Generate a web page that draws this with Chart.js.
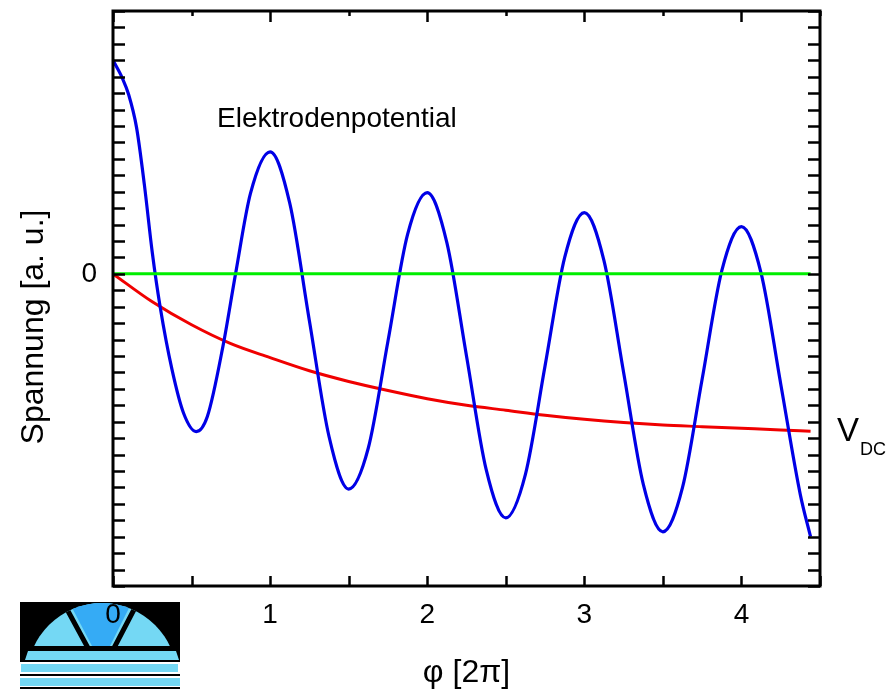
<!DOCTYPE html>
<html>
<head>
<meta charset="utf-8">
<script src="https://cdn.jsdelivr.net/npm/chart.js@4"></script>
<style>
  body { margin: 0; background: #fff; }
  canvas { display: block; }
</style>
</head>
<body>
<canvas id="myChart" width="888" height="689"></canvas>
<script>
// phase in units of 2*pi
const phiBlue = [0, 0.06, 0.1, 0.15, 0.2, 0.25, 0.3, 0.375, 0.45, 0.53, 0.6, 0.7, 0.78, 0.875, 1, 1.125, 1.25, 1.375, 1.5, 1.625, 1.75, 1.875,
                 2, 2.125, 2.25, 2.375, 2.5, 2.625, 2.75, 2.875, 3, 3.125, 3.25, 3.375, 3.5, 3.625, 3.75, 3.875,
                 4, 4.125, 4.25, 4.375, 4.44];
const elektrode = [13.0, 11.9, 10.9, 8.9, 5.4, 1.3, -2.0, -5.8, -8.5, -9.6, -8.7, -4.4, 0, 4.9, 7.43, 4.3, -2.85, -9.9, -13.1, -10.6, -4.1, 2.4,
                   4.94, 1.9, -5.0, -11.9, -14.85, -12.2, -5.6, 1.0, 3.73, 0.8, -6.0, -12.8, -15.7, -13.0, -6.4, 0.2,
                   2.88, 0.05, -6.7, -13.45, -16.0];

const phiDC = [0, 0.25, 0.5, 0.75, 1, 1.25, 1.5, 1.75, 2, 2.25, 2.5, 2.75, 3, 3.25, 3.5, 3.75, 4, 4.25, 4.44];
const vdc = [0, -1.7, -3.1, -4.25, -5.1, -5.9, -6.55, -7.1, -7.6, -8.0, -8.3, -8.6, -8.85, -9.05, -9.2, -9.3, -9.4, -9.5, -9.58];

const phiZero = [0, 4.44];
const zero = [0, 0];

const xTickLabels = ['0', '1', '2', '3', '4'];
const yTickLabels = ['0'];

const FONT = "'Liberation Sans', Arial, sans-serif";

function pts(xs, ys) {
    return xs.map((x, i) => ({ x: x, y: ys[i] }));
}

// small logo in the lower left corner
function drawLogo(ctx) {
    const light = '#74d8f4', dark = '#35abf5';
    ctx.save();
    ctx.fillStyle = '#000';
    ctx.fillRect(20, 602, 160, 60);

    ctx.save();
    ctx.beginPath();
    ctx.rect(20, 600, 160, 46);
    ctx.clip();
    ctx.beginPath();
    ctx.arc(102, 678, 75, 0, Math.PI * 2);
    ctx.clip();
    ctx.fillStyle = light;
    ctx.fillRect(20, 600, 160, 46);
    ctx.fillStyle = dark;
    ctx.beginPath();
    ctx.moveTo(92, 646); ctx.lineTo(68, 600); ctx.lineTo(133, 600); ctx.lineTo(110, 646);
    ctx.closePath();
    ctx.fill();
    ctx.strokeStyle = '#000';
    ctx.lineWidth = 5;
    ctx.beginPath();
    ctx.moveTo(88, 648); ctx.lineTo(62, 600);
    ctx.moveTo(114, 648); ctx.lineTo(139, 600);
    ctx.stroke();
    ctx.restore();

    ctx.fillStyle = light;
    ctx.beginPath();
    ctx.moveTo(25, 660); ctx.lineTo(28, 651); ctx.lineTo(176, 651); ctx.lineTo(179, 660);
    ctx.closePath();
    ctx.fill();
    ctx.fillRect(21, 664, 157, 8);
    ctx.fillRect(20, 678, 160, 8);
    ctx.fillStyle = '#000';
    ctx.fillRect(20, 674, 160, 2);
    ctx.fillRect(20, 687, 160, 2);
    ctx.restore();
}

const framePlugin = {
    id: 'frame',
    beforeDraw(chart) {
        drawLogo(chart.ctx);
    },
    afterDraw(chart) {
        const ctx = chart.ctx;
        const a = chart.chartArea;
        const xs = chart.scales.x, ys = chart.scales.y;
        ctx.save();
        ctx.strokeStyle = '#000';
        ctx.lineWidth = 2.5;
        ctx.beginPath();
        for (let v = ys.min; v <= ys.max + 1e-6; v += 1) {
            const py = Math.round(ys.getPixelForValue(v)) + 0.5;
            ctx.moveTo(a.left, py); ctx.lineTo(a.left + 12, py);
            ctx.moveTo(a.right, py); ctx.lineTo(a.right - 12, py);
        }
        for (let v = xs.min; v <= xs.max + 1e-6; v += 0.5) {
            const px = Math.round(xs.getPixelForValue(v)) + 0.5;
            ctx.moveTo(px, a.bottom); ctx.lineTo(px, a.bottom - 10);
            const len = Number.isInteger(v) ? 11 : 5;
            ctx.moveTo(px, a.top); ctx.lineTo(px, a.top + len);
        }
        ctx.stroke();
        ctx.lineWidth = 3;
        ctx.strokeRect(a.left, a.top, a.right - a.left, a.bottom - a.top);

        // texts
        ctx.fillStyle = '#000';
        ctx.textBaseline = 'alphabetic';
        ctx.textAlign = 'left';
        ctx.font = '28px ' + FONT;
        ctx.fillText('Elektrodenpotential', xs.getPixelForValue(0.662), ys.getPixelForValue(8.94));

        ctx.font = '33px ' + FONT;
        const vx = a.right + 17;
        ctx.fillText('V', vx, ys.getPixelForValue(-10.2));
        const vw = ctx.measureText('V').width;
        ctx.font = '18px ' + FONT;
        ctx.fillText('DC', vx + vw + 1, ys.getPixelForValue(-11.0));

        ctx.font = '32px ' + FONT;
        ctx.translate(43, 327);
        ctx.rotate(-Math.PI / 2);
        ctx.textAlign = 'center';
        ctx.fillText('Spannung [a. u.]', 0, 0);
        ctx.restore();
    }
};

const ctx = document.getElementById('myChart').getContext('2d');
new Chart(ctx, {
    type: 'line',
    data: {
        datasets: [
            {
                data: pts(phiZero, zero),
                borderColor: '#00ee00',
                borderWidth: 3,
                pointRadius: 0,
                order: 0
            },
            {
                data: pts(phiBlue, elektrode),
                borderColor: '#0000e6',
                borderWidth: 3.2,
                pointRadius: 0,
                cubicInterpolationMode: 'monotone',
                order: 1
            },
            {
                data: pts(phiDC, vdc),
                borderColor: '#f00000',
                borderWidth: 3,
                pointRadius: 0,
                cubicInterpolationMode: 'monotone',
                order: 2
            }
        ]
    },
    plugins: [framePlugin],
    options: {
        responsive: false,
        animation: false,
        layout: { padding: { left: 0, top: 11, right: 68, bottom: 0 } },
        plugins: { legend: { display: false }, tooltip: { enabled: false } },
        scales: {
            x: {
                type: 'linear',
                min: 0,
                max: 4.5,
                grid: { display: false, drawTicks: false },
                border: { display: false },
                afterFit: scale => {
                    scale.height = 103;
                    scale.paddingLeft = 0;
                    scale.paddingRight = 0;
                },
                ticks: {
                    stepSize: 0.5,
                    autoSkip: false,
                    maxRotation: 0,
                    padding: 12,
                    color: '#000',
                    font: { family: FONT, size: 28 },
                    callback: v => Number.isInteger(v) && xTickLabels.includes(String(v)) ? String(v) : ''
                },
                title: {
                    display: true,
                    text: 'φ [2π]',
                    color: '#000',
                    font: { family: FONT, size: 32, lineHeight: 1 },
                    padding: { top: 0, bottom: 0 }
                }
            },
            y: {
                min: -19,
                max: 16,
                grid: { display: false, drawTicks: false },
                border: { display: false },
                afterFit: scale => {
                    scale.width = 113;
                    scale.paddingTop = 0;
                    scale.paddingBottom = 0;
                },
                ticks: {
                    stepSize: 1,
                    autoSkip: false,
                    padding: 16,
                    color: '#000',
                    font: { family: FONT, size: 28 },
                    callback: v => yTickLabels.includes(String(v)) ? String(v) : ''
                }
            }
        }
    }
});
</script>
</body>
</html>
